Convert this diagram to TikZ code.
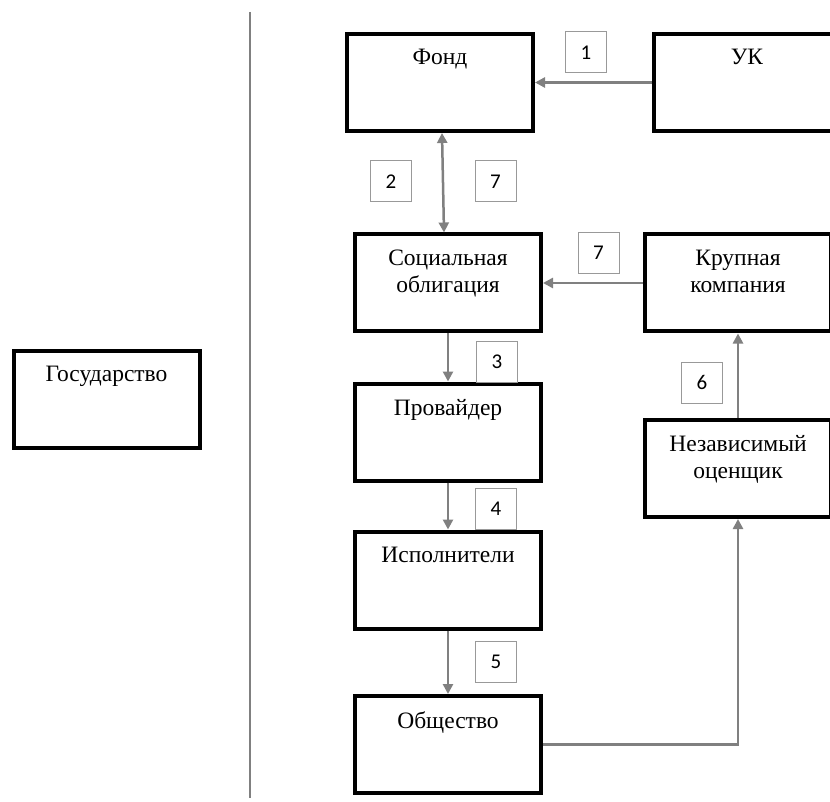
\documentclass[tikz,border=0pt]{standalone}
\usepackage{fontspec}
\setmainfont{Liberation Serif}
\newfontfamily\numfont{Carlito}
\usetikzlibrary{arrows.meta}

\begin{document}
\begin{tikzpicture}[x=1pt, y=-1pt,
		box/.style={draw, line width=4pt, minimum width=186pt, minimum height=97pt},
		txt/.style={anchor=north, yshift=-14pt, align=center, font=\fontsize{23.5}{27}\selectfont},
		num/.style={draw=gray!80, line width=1pt, minimum size=41pt, inner sep=0pt, font=\numfont\fontsize{21}{21}\selectfont},
		arr/.style={draw=gray, line width=2.5pt, -{Triangle[length=10pt,width=10pt]}}]
		\useasboundingbox (0,0) rectangle (830,802);
		\clip (0,0) rectangle (830,802);

		% left part
		\node[box, label={[txt]north:Государство}] (gos) at (106.5,399.5) {};
		\draw[gray, line width=1.5pt] (250,12) -- (250,798);

		% main column
		\node[box, label={[txt]north:Фонд}] (fond) at (440,82.5) {};
		\node[box, label={[txt]north:{Социальная\\облигация}}] (sotz) at (448,283) {};
		\node[box, label={[txt]north:Провайдер}] (prov) at (448,432) {};
		\node[box, label={[txt]north:Исполнители}] (ispol) at (448,580) {};
		\node[box, label={[txt]north:Общество}] (obsh) at (448,744.5) {};

		% right column
		\node[box, label={[txt]north:УК}] (uk) at (747,82.5) {};
		\node[box, label={[txt]north:{Крупная\\компания}}] (krup) at (738,283) {};
		\node[box, label={[txt]north:{Независимый\\оценщик}}] (ocen) at (738,468.5) {};

		% step numbers
		\node[num] (n1) at (586,52.5) {1};
		\node[num] (n2) at (391,181.5) {2};
		\node[num] (n7a) at (495.5,181.5) {7};
		\node[num] (n7b) at (598.5,253) {7};
		\node[num] (n3) at (497,362) {3};
		\node[num] (n6) at (702,382.5) {6};
		\node[num] (n4) at (496,508.5) {4};
		\node[num] (n5) at (496,661.5) {5};

		\draw[arr] (uk.west) -- (fond.east);
		\draw[arr, {Triangle[length=10pt,width=10pt]}-{Triangle[length=10pt,width=10pt]}] ([xshift=2pt]fond.south) -- ([xshift=-4pt]sotz.north);
		\draw[arr] (krup.west) -- (sotz.east);
		\draw[arr] (sotz.south) -- (prov.north);
		\draw[arr] (prov.south) -- (ispol.north);
		\draw[arr] (ispol.south) -- (obsh.north);
		\draw[arr] (obsh.east) -| (ocen.south);
		\draw[arr] (ocen.north) -- (krup.south);
	\end{tikzpicture}
\end{document}
